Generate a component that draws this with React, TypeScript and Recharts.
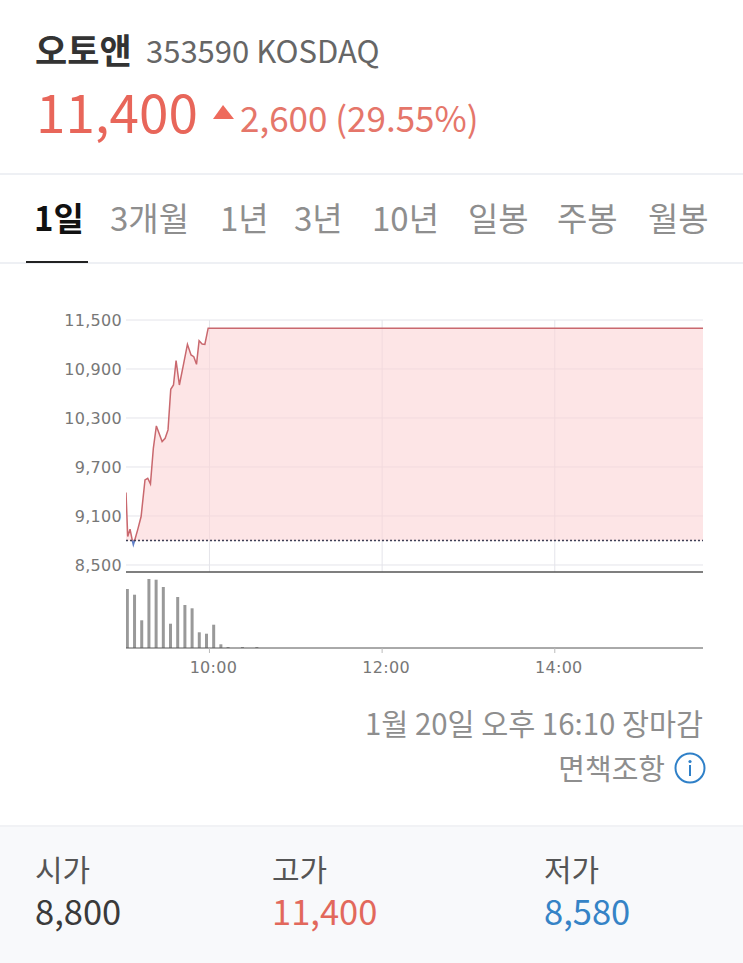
import React from "react";
import {
  ComposedChart, Area, Bar, XAxis, YAxis, CartesianGrid, ReferenceLine,
} from "recharts";

// minutes after 09:00
const priceTimes = [2, 3.2, 4.8, 6.4, 7.1, 8, 10.1, 12.5, 15.2, 17.1, 19, 21, 23.1, 27.1, 29.2, 31.2, 33.1, 35, 36.8, 39.1, 42.1, 44.7, 47.2, 49.1, 51, 52.8, 54.9, 56.8, 59.1, 403];
const prices = [9387, 8848, 8938, 8800, 8746, 8800, 8930, 9093, 9542, 9562, 9493, 9929, 10203, 10011, 10052, 10154, 10651, 10704, 11002, 10704, 10970, 11202, 11072, 11051, 10957, 11247, 11206, 11202, 11400, 11400];

const volumeTimes = [3, 8, 13, 18, 23, 28, 33, 38, 43, 48, 53, 58, 63, 68, 73, 83, 93];
const volumes = [590, 533, 277, 690, 683, 610, 243, 510, 430, 397, 157, 143, 233, 37, 10, 10, 10];

const priceTicks = [8500, 9100, 9700, 10300, 10900, 11500];
const timeTicks = [60, 180, 300];
const timeLabels = ["10:00", "12:00", "14:00"];

const tabs = ["1일", "3개월", "1년", "3년", "10년", "일봉", "주봉", "월봉"];
const tabLefts = [34, 110, 220, 294, 372, 468, 557, 648];

const basePrice = 8800;
const stats = [
  { label: "시가", value: "8,800", left: 35, color: "#3a3a3a" },
  { label: "고가", value: "11,400", left: 272, color: "#e2685c" },
  { label: "저가", value: "8,580", left: 544, color: "#3583c6" },
];

const priceData = priceTimes.map((t, i) => ({
  t,
  up: Math.max(prices[i], basePrice),
  down: prices[i] <= basePrice ? prices[i] : null,
}));
const volumeData = volumeTimes.map((t, i) => ({ t, v: volumes[i] }));

const FONT = '"Noto Sans CJK KR", "Noto Sans", sans-serif';
const GRID = "#e4e4ea";

function Txt({ x, y, size, color, weight = 400, right, children }: any) {
  const pos = right !== undefined ? { right } : { left: x };
  return (
    <div style={{
      position: "absolute", top: y, ...pos, fontSize: size, color, fontWeight: weight,
      lineHeight: 1, whiteSpace: "nowrap", fontFamily: FONT,
    }}>
      {children}
    </div>
  );
}

function Rule({ y, h = 2, color = "#eef0f4", x = 0, w = 743 }: any) {
  return <div style={{ position: "absolute", top: y, left: x, width: w, height: h, background: color }} />;
}

export default function App() {
  return (
    <div style={{ position: "absolute", top: 0, left: 0, width: 743, height: 963, overflow: "hidden", background: "#fff" }}>
      {/* header */}
      <Txt x={35} y={31} size={35} color="#333" weight={700}>오토앤</Txt>
      <Txt x={146} y={34} size={31} color="#666">353590 KOSDAQ</Txt>
      <Txt x={36} y={84} size={53} color="#e8665a">11,400</Txt>
      <svg style={{ position: "absolute", left: 212, top: 104 }} width="24" height="16">
        <polygon points="1,15 11,1 22,15" fill="#ee6a5c" />
      </svg>
      <Txt x={240} y={99} size={35} color="#e5766a">2,600 (29.55%)</Txt>
      <Rule y={173} />

      {/* period tabs */}
      {tabs.map((tab, i) => (
        <Txt key={tab} x={tabLefts[i]} y={201} size={33} weight={i === 0 ? 700 : 400} color={i === 0 ? "#111" : "#8e8e8e"}>
          {tab}
        </Txt>
      ))}
      <Rule y={262} />
      <Rule y={261} x={26} w={62} color="#222" />

      {/* price panel */}
      <div style={{ position: "absolute", left: 0, top: 300 }}>
        <ComposedChart width={743} height={277} data={priceData} margin={{ top: 20, right: 40, bottom: 5, left: 66 }}>
          <CartesianGrid stroke={GRID} horizontalValues={priceTicks} verticalValues={timeTicks} />
          <XAxis dataKey="t" type="number" domain={[2, 403]} ticks={timeTicks} hide allowDataOverflow />
          <YAxis
            type="number"
            width={60}
            domain={[8414, 11500]}
            ticks={priceTicks}
            interval={0}
            allowDataOverflow
            axisLine={false}
            tickLine={false}
            tickMargin={-2}
            tickFormatter={(v) => v.toLocaleString("en-US")}
            tick={{ fontSize: 16, fill: "#777", fontFamily: "DejaVu Sans", letterSpacing: 0.3 }}
          />
          <Area
            dataKey="up" type="linear" baseValue={basePrice} stroke="#c9686e" strokeWidth={1.5}
            fill="#fbd3d6" fillOpacity={0.6} dot={false} activeDot={false} isAnimationActive={false}
          />
          <Area
            dataKey="down" type="linear" baseValue={basePrice} stroke="#5f7fc8" strokeWidth={1.5}
            fill="#8ea8e0" fillOpacity={0.7} dot={false} activeDot={false} isAnimationActive={false}
          />
          <ReferenceLine y={basePrice} stroke="#3c3f55" strokeDasharray="2 2" strokeWidth={1.5} />
        </ComposedChart>
      </div>

      {/* volume panel */}
      <div style={{ position: "absolute", left: 0, top: 560 }}>
        <ComposedChart width={743} height={120} data={volumeData} margin={{ top: 12, right: 40, bottom: 0, left: 126 }}>
          <XAxis
            dataKey="t"
            type="number"
            domain={[2, 403]}
            ticks={timeTicks}
            interval={0}
            allowDataOverflow
            height={32}
            stroke="#555"
            tickLine={{ stroke: "#bbb" }}
            tickSize={5}
            tickMargin={9}
            tickFormatter={(v) => timeLabels[timeTicks.indexOf(v)]}
            tick={{ fontSize: 16, fill: "#777", fontFamily: "DejaVu Sans", dx: 4, letterSpacing: 0.3 }}
          />
          <YAxis type="number" domain={[0, 760]} hide />
          <ReferenceLine y={760} stroke="#555" strokeWidth={1.5} ifOverflow="visible" />
          <Bar dataKey="v" fill="#999" barSize={3} isAnimationActive={false} />
        </ComposedChart>
      </div>

      {/* footer */}
      <Txt right={40} y={708} size={29.4} color="#8e8e8e">1월 20일 오후 16:10 장마감</Txt>
      <Txt right={78} y={753} size={29} color="#8e8e8e">면책조항</Txt>
      <svg style={{ position: "absolute", left: 674, top: 752 }} width="32" height="32">
        <circle cx="16" cy="16" r="14.5" fill="none" stroke="#2f80c8" strokeWidth="2" />
        <circle cx="16" cy="9.5" r="1.6" fill="#2f80c8" />
        <rect x="15" y="13" width="2" height="11" fill="#2f80c8" />
      </svg>

      <div style={{ position: "absolute", left: 0, top: 825, width: 743, height: 138, background: "#f8f9fb", borderTop: "2px solid #f1f2f5" }} />
      {stats.map((s) => (
        <React.Fragment key={s.label}>
          <Txt x={s.left} y={853} size={30} color="#555">{s.label}</Txt>
          <Txt x={s.left} y={893} size={34.5} color={s.color}>{s.value}</Txt>
        </React.Fragment>
      ))}
    </div>
  );
}
